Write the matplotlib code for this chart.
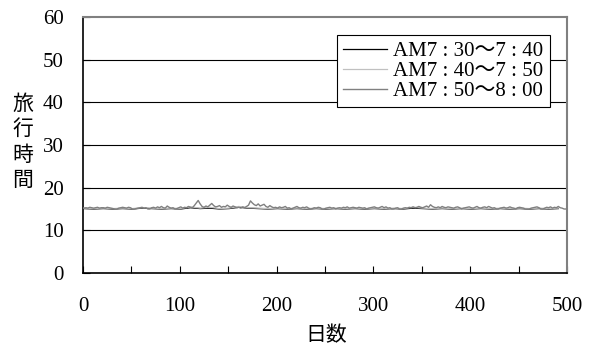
import matplotlib
matplotlib.use("Agg")
import matplotlib.pyplot as plt
from matplotlib.ticker import MultipleLocator

plt.rcParams['font.family'] = ['Liberation Serif', 'Noto Sans CJK JP', 'DejaVu Sans']

# Daily travel time samples (every 2nd day) for the 7:50-8:00 departure window
days_fine = list(range(1, 500, 2))
am750_800 = [
    15.2, 15.3, 15.2, 15.4, 15.3, 15.2, 15.3, 15.4, 15.2, 15.3,
    15.3, 15.2, 15.4, 15.3, 15.2, 15.1, 15.0, 15.0, 15.2, 15.3,
    15.4, 15.3, 15.2, 15.4, 15.3, 15.0, 15.0, 15.1, 15.2, 15.3,
    15.4, 15.2, 15.3, 15.0, 15.0, 15.3, 15.4, 15.2, 15.5, 15.3,
    15.6, 15.3, 15.2, 15.7, 15.4, 15.2, 15.3, 15.0, 15.1, 15.3,
    15.5, 15.2, 15.4, 15.3, 15.6, 15.4, 15.3, 15.8, 16.4, 17.0,
    16.2, 15.6, 15.4, 15.7, 15.5, 15.9, 16.3, 15.8, 15.5, 15.6,
    15.8, 15.4, 15.6, 15.5, 15.9, 15.6, 15.4, 15.7, 15.5, 15.3,
    15.4, 15.2, 15.5, 15.3, 15.6, 15.9, 16.9, 16.4, 16.0, 15.8,
    16.2, 15.7, 15.9, 16.1, 15.6, 15.4, 15.8, 15.5, 15.3, 15.4,
    15.2, 15.5, 15.3, 15.4, 15.6, 15.2, 15.3, 15.0, 15.2, 15.4,
    15.6, 15.3, 15.2, 15.4, 15.3, 15.5, 15.2, 15.0, 15.1, 15.3,
    15.2, 15.4, 15.3, 15.0, 15.0, 15.2, 15.3, 15.4, 15.2, 15.3,
    15.0, 15.2, 15.3, 15.2, 15.4, 15.3, 15.5, 15.2, 15.3, 15.4,
    15.3, 15.2, 15.4, 15.3, 15.2, 15.3, 15.0, 15.2, 15.3, 15.4,
    15.5, 15.3, 15.2, 15.4, 15.6, 15.3, 15.5, 15.2, 15.3, 15.0,
    15.0, 15.2, 15.3, 15.0, 15.0, 15.2, 15.3, 15.2, 15.4, 15.3,
    15.5, 15.3, 15.4, 15.6, 15.4, 15.3, 15.5, 15.7, 15.4, 16.0,
    15.6, 15.4, 15.3, 15.5, 15.3, 15.6, 15.4, 15.3, 15.5, 15.4,
    15.3, 15.2, 15.4, 15.5, 15.3, 15.0, 15.2, 15.3, 15.4, 15.5,
    15.3, 15.2, 15.4, 15.6, 15.3, 15.2, 15.4, 15.5, 15.3, 15.6,
    15.4, 15.2, 15.3, 15.0, 15.0, 15.2, 15.3, 15.4, 15.2, 15.3,
    15.5, 15.3, 15.2, 15.0, 15.3, 15.4, 15.3, 15.2, 15.0, 15.0,
    15.0, 15.2, 15.3, 15.4, 15.5, 15.3, 15.0, 15.0, 15.2, 15.4,
    15.3, 15.5, 15.2, 15.4, 15.3, 15.6, 15.3, 15.2, 15.0, 15.0,
]

# Coarser samples (every 10th day) for the two earlier windows
days_coarse = list(range(1, 500, 10))
am730_740 = [
    15.1, 15.0, 15.1, 15.0, 15.1, 15.0, 15.2, 15.1, 15.0, 15.1,
    15.0, 15.3, 15.1, 15.2, 15.0, 15.1, 15.4, 15.2, 15.1, 15.0,
    15.1, 15.0, 15.1, 15.0, 15.1, 15.0, 15.1, 15.0, 15.1, 15.0,
    15.1, 15.0, 15.1, 15.0, 15.2, 15.1, 15.0, 15.1, 15.0, 15.1,
    15.0, 15.1, 15.0, 15.1, 15.0, 15.1, 15.0, 15.1, 15.0, 15.1,
]
am740_750 = [
    15.2, 15.1, 15.2, 15.1, 15.2, 15.1, 15.3, 15.2, 15.1, 15.2,
    15.1, 15.5, 15.2, 15.4, 15.1, 15.2, 15.6, 15.3, 15.2, 15.1,
    15.2, 15.1, 15.2, 15.1, 15.2, 15.1, 15.2, 15.1, 15.2, 15.1,
    15.2, 15.1, 15.2, 15.1, 15.4, 15.2, 15.1, 15.2, 15.1, 15.2,
    15.1, 15.2, 15.1, 15.2, 15.1, 15.2, 15.1, 15.2, 15.1, 15.2,
]

series_labels = ['AM7 : 30～7 : 40', 'AM7 : 40～7 : 50', 'AM7 : 50～8 : 00']
y_ticks = [0, 10, 20, 30, 40, 50, 60]
x_ticks = [0, 100, 200, 300, 400, 500]

fig = plt.figure(figsize=(5.94, 3.5), dpi=100)
ax = fig.add_axes([83 / 594, 1 - 273 / 350, 484 / 594, 256 / 350])

for v in y_ticks[1:-1]:
    ax.axhline(v, color='black', lw=0.8, zorder=1)

ax.plot(days_coarse, am730_740, color='black', lw=0.9, label=series_labels[0], zorder=2)
ax.plot(days_coarse, am740_750, color='#c0c0c0', lw=0.9, label=series_labels[1], zorder=3)
ax.plot(days_fine, am750_800, color='#808080', lw=1.0, label=series_labels[2], zorder=4)

ax.set_xlim(0, 500)
ax.set_ylim(0, 60)
ax.set_yticks(y_ticks)
ax.set_xticks(x_ticks)
ax.xaxis.set_minor_locator(MultipleLocator(50))

ax.tick_params(axis='x', which='both', direction='in', length=5, width=0.8,
               pad=17, labelsize=15, top=False)
ax.tick_params(axis='y', which='both', direction='in', length=5, width=0.8,
               pad=14, labelsize=15, right=False)

for side in ('left', 'bottom'):
    ax.spines[side].set_color('black')
    ax.spines[side].set_linewidth(1.2)
for side in ('top', 'right'):
    ax.spines[side].set_color('#808080')
    ax.spines[side].set_linewidth(1.5)

leg = ax.legend(loc='upper left', bbox_to_anchor=((337 - 83) / 484, (273 - 35) / 256),
                borderaxespad=0, fontsize=15, frameon=True, fancybox=False,
                edgecolor='black', framealpha=1, handlelength=2.1,
                handletextpad=0.3, labelspacing=0.02, borderpad=0.3)
leg.get_frame().set_linewidth(0.8)

fig.text(326 / 594, 1 - 335 / 350, '日数', ha='center', va='center', fontsize=15,
         family=['Noto Sans CJK JP'])
for i, ch in enumerate('旅行時間'):
    fig.text(23 / 594, 1 - (103.5 + 25.5 * i) / 350, ch, ha='center', va='center',
             fontsize=15, family=['Noto Sans CJK JP'])

fig.savefig('out.png', dpi=100)
